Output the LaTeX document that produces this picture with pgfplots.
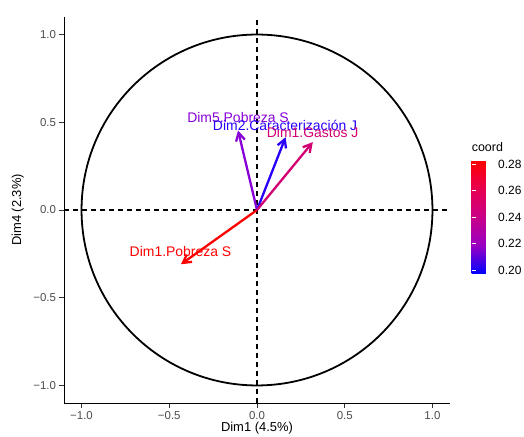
\documentclass[border=0pt]{standalone}
\usepackage{pgfplots}
\pgfplotsset{compat=1.18}
\usepackage{fontspec}
\setmainfont{Liberation Sans}
\usetikzlibrary{arrows.meta}
\definecolor{cPobS}{RGB}{255,0,0}
\definecolor{cDim5}{RGB}{135,0,215}
\definecolor{cDim2}{RGB}{40,0,250}
\definecolor{cGas}{RGB}{210,0,115}
\begin{document}
\begin{tikzpicture}
\begin{axis}[name=ax, scale only axis, width=386bp, height=386bp,
  xmin=-1.1, xmax=1.1, ymin=-1.1, ymax=1.1,
  axis x line*=bottom, axis y line*=left,
  axis line style={black, line width=0.9bp},
  xtick={-1,-0.5,0,0.5,1}, xticklabels={−1.0,−0.5,0.0,0.5,1.0},
  ytick={-1,-0.5,0,0.5,1}, yticklabels={−1.0,−0.5,0.0,0.5,1.0},
  tick align=outside, major tick length=4.5bp,
  tick style={color=black!80, line width=0.9bp},
  ticklabel style={font=\fontsize{11.5}{13}\selectfont, text=black!70},
  xlabel={Dim1 (4.5\%)}, ylabel={Dim4 (2.3\%)},
  label style={font=\fontsize{13}{15}\selectfont},
  xlabel style={at={(axis description cs:0.5,-0.066)}, anchor=center},
  ylabel style={at={(axis description cs:-0.12,0.5)}, anchor=center},
  clip=false,
  colormap={cm}{rgb255(0cm)=(0,0,255); rgb255(1cm)=(153,0,194); rgb255(2cm)=(201,0,136); rgb255(3cm)=(232,0,80); rgb255(4cm)=(255,0,0)},
  colorbar,
  point meta min=0.197, point meta max=0.283,
  colorbar style={
    at={(1.056,0.6295)}, anchor=north west,
    scale only axis, width=23bp, height=114bp,
    axis line style={draw=none},
    ytick={0.20,0.22,0.24,0.26,0.28},
    yticklabels={0.20,0.22,0.24,0.26,0.28},
    ytick pos=both, yticklabel pos=right,
    tick align=inside, major tick length=4bp,
    tick style={white, line width=0.8bp},
    yticklabel style={font=\fontsize{12}{14}\selectfont, text=black},
    title={coord},
    title style={at={(0,1)}, anchor=south west, inner xsep=0pt, inner ysep=2bp, font=\fontsize{12.5}{14}\selectfont},
  },
]
\draw[black, line width=1.8bp] (axis cs:0,0) ellipse [x radius=1, y radius=1];
\draw[black, line width=1.4bp, dash pattern=on 5bp off 4bp] (axis cs:0,-1.1) -- (axis cs:0,1.1);
\draw[black, line width=1.4bp, dash pattern=on 5bp off 4bp] (axis cs:-1.1,0) -- (axis cs:1.1,0);
\addplot[cPobS, line width=2.3bp, -{Straight Barb[length=8bp,width=9bp]}] coordinates {(0,0) (-0.433,-0.309)};
\addplot[cDim5, line width=2.3bp, -{Straight Barb[length=8bp,width=9bp]}] coordinates {(0,0) (-0.108,0.453)};
\addplot[cDim2, line width=2.3bp, -{Straight Barb[length=8bp,width=9bp]}] coordinates {(0,0) (0.163,0.415)};
\addplot[cGas, line width=2.3bp, -{Straight Barb[length=8bp,width=9bp]}] coordinates {(0,0) (0.318,0.387)};
\node[text=cPobS, font=\fontsize{14}{16}\selectfont, inner sep=0pt] at (axis cs:-0.436,-0.239) {Dim1.Pobreza S};
\node[text=cDim5, font=\fontsize{14}{16}\selectfont, inner sep=0pt] at (axis cs:-0.108,0.527) {Dim5.Pobreza S};
\node[text=cDim2, font=\fontsize{14}{16}\selectfont, inner sep=0pt] at (axis cs:0.160,0.482) {Dim2.Caracterización J};
\node[text=cGas, font=\fontsize{14}{16}\selectfont, inner sep=0pt] at (axis cs:0.317,0.444) {Dim1.Gastos J};
\end{axis}
\pgfresetboundingbox
\path ([shift={(-64bp,-34bp)}]ax.south west) rectangle ([shift={(460bp,403bp)}]ax.south west);
\end{tikzpicture}
\end{document}
